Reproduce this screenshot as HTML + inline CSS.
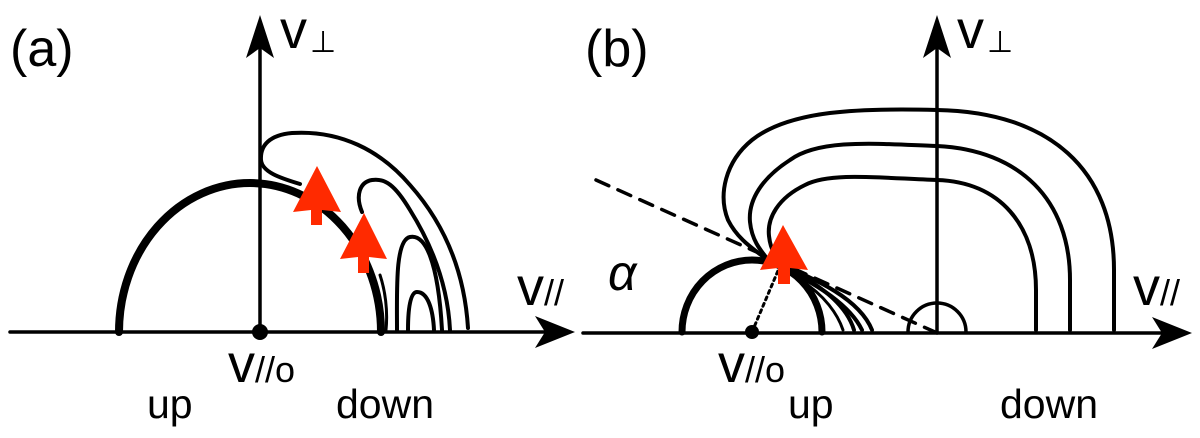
<!DOCTYPE html>
<html><head><meta charset="utf-8"><style>
html,body{margin:0;padding:0;background:#fff;}
svg{display:block;}
text{font-family:"Liberation Sans",sans-serif;fill:#000;}
</style></head><body>
<svg width="1200" height="438" viewBox="0 0 1200 438" xmlns="http://www.w3.org/2000/svg">
<g fill="none" stroke="#000" stroke-width="3.5" stroke-linecap="round" stroke-linejoin="round">
<line x1="10" y1="332" x2="560" y2="332"/>
<line x1="260" y1="332" x2="260" y2="30"/>
</g>
<polygon points="575,332 535,316 545,332 535,348" fill="#000"/>
<polygon points="260,15 246,58 260,48 274,58" fill="#000"/>
<circle cx="260" cy="332" r="8" fill="#000"/>
<g fill="none" stroke="#000" stroke-linecap="round" stroke-linejoin="round">
<path d="M119,332 A131,149 0 0 1 381,332" stroke-width="8"/>
<path d="M300,184 C280,178 262,172 261,160 C260,145 270,135 292,133 C340,130 380,150 410,185 C450,230 465,280 468,328" stroke-width="4"/>
<path d="M362,212 C355,195 360,182 372,180 C385,178 395,185 410,210 C435,250 448,290 450,330" stroke-width="4"/>
<path d="M397,330 C397,290 395,240 410,237 C425,234 438,260 442,330" stroke-width="4"/>
<path d="M408,330 C408,310 410,292 417,292 C428,292 433,310 434,330" stroke-width="4"/>
<path d="M386,330 C388,310 385,290 380,275" stroke-width="3"/>
</g>
<polygon points="317,166 341,212 322,210 322,225 311,225 311,210 293,212" fill="#ff2a00"/>
<polygon points="364,213 387,259 369,257 369,273 358,273 358,257 340,259" fill="#ff2a00"/>

<g fill="none" stroke="#000" stroke-width="3.5" stroke-linecap="round" stroke-linejoin="round">
<line x1="583" y1="333" x2="1170" y2="333"/>
<line x1="937" y1="333" x2="937" y2="30"/>
</g>
<polygon points="1192,333 1152,317 1162,333 1152,349" fill="#000"/>
<polygon points="937,15 923,58 937,48 951,58" fill="#000"/>
<circle cx="752" cy="332" r="7" fill="#000"/>
<g fill="none" stroke="#000" stroke-linecap="round" stroke-linejoin="round">
<path d="M596,180 L935,332" stroke-width="3.5" stroke-dasharray="14,10"/>
<path d="M752,332 L780,266" stroke-width="3" stroke-dasharray="3,4"/>
<path d="M682,332 A70,72 0 0 1 822,332" stroke-width="7"/>
<path d="M908,332 A29,29 0 0 1 966,332" stroke-width="3.5"/>
<path d="M1114,330 L1114,270 C1114,170 1050,112 937,110 C860,108 790,110 752,140 C725,162 718,195 728,220 C738,240 755,250 765,258 C820,280 860,300 872,330" stroke-width="4"/>
<path d="M1070,330 L1070,280 C1070,200 1020,150 937,146 C880,144 820,138 790,160 C762,178 748,200 750,222 C752,242 762,252 770,262 C815,282 850,305 862,330" stroke-width="4"/>
<path d="M1036,330 L1036,290 C1036,225 1000,182 937,180 C880,178 830,172 805,185 C778,198 767,218 769,236 C771,255 780,262 790,270 C830,290 848,310 854,330" stroke-width="4"/>
<path d="M800,280 C825,295 838,315 843,330" stroke-width="3"/>
</g>
<polygon points="783,225 808,270 790,268 790,284 778,284 778,268 760,270" fill="#ff2a00"/>

<text x="10" y="66" font-size="52">(a)</text>
<text x="585" y="66" font-size="52">(b)</text>
<text x="280" y="48" font-size="54">v</text>
<text x="310" y="52" font-size="30">⊥</text>
<text x="957" y="48" font-size="54">v</text>
<text x="987" y="52" font-size="30">⊥</text>
<text x="517" y="305" font-size="54">v<tspan font-size="36">//</tspan></text>
<text x="1133" y="305" font-size="54">v<tspan font-size="36">//</tspan></text>
<text x="228" y="382" font-size="54">v<tspan font-size="36">//o</tspan></text>
<text x="718" y="382" font-size="54">v<tspan font-size="36">//o</tspan></text>
<text x="147" y="418" font-size="41">up</text>
<text x="336" y="418" font-size="41">down</text>
<text x="788" y="418" font-size="41">up</text>
<text x="1000" y="418" font-size="41">down</text>
<text x="608" y="290" font-size="50" font-style="italic" font-family="Liberation Serif, serif">α</text>
</svg>
</body></html>
